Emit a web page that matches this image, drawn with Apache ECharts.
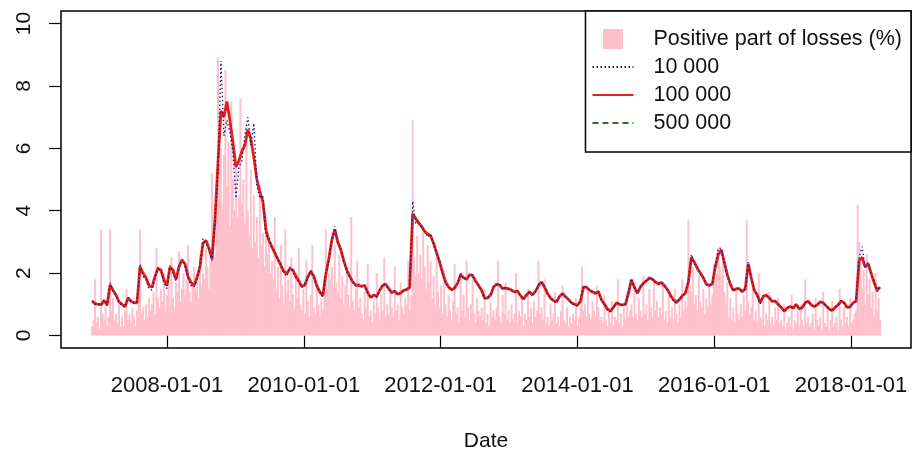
<!DOCTYPE html>
<html>
<head>
<meta charset="utf-8">
<script src="https://cdn.jsdelivr.net/npm/echarts@6/dist/echarts.min.js"></script>
<style>
html,body{margin:0;padding:0;background:#fff;}
#chart{width:912px;height:456px;}
</style>
</head>
<body>
<div id="chart"></div>
<script>
// ---- data ----
const seriesStart = '2006-11-27';
const lineStepDays = 16;   // sampling step of the three estimate lines
const barStepDays = 8;     // sampling step of the loss bars

const xTickDates = ['2008-01-01','2010-01-01','2012-01-01','2014-01-01','2016-01-01','2018-01-01'];
const yTickValues = [0, 2, 4, 6, 8, 10];
const xRange = ['2006-06-14', '2018-11-17'];
const yRange = [-0.4, 10.4];

const legendNames = ['Positive part of losses (%)', '10 000', '100 000', '500 000'];

const losses = [
0.3,0.5,1.8,0.4,0.6,0.2,3.4,0.7,0.5,0.9,0.3,0.6,3.4,0.8,1.2,0.5,0.7,0.4,1.0,0.3,
0.6,0.3,0.8,1.5,0.5,0.7,0.4,0.9,0.6,0.3,0.8,1.1,3.4,0.7,0.9,0.5,1.0,0.6,1.2,0.8,
1.0,1.4,0.7,2.8,1.2,0.9,1.5,1.1,2.0,0.8,1.3,1.6,1.0,2.5,1.2,0.9,1.7,1.4,2.7,1.1,
1.5,2.0,1.3,1.8,2.9,1.4,1.1,1.7,2.2,1.5,1.9,1.2,2.6,1.6,2.0,1.8,2.8,2.2,1.5,2.4,
5.2,3.0,2.5,4.0,8.9,5.5,6.0,4.2,5.8,8.5,4.8,6.2,3.5,7.5,5.0,4.0,5.6,3.8,4.5,7.6,
4.2,5.0,3.6,6.8,4.0,3.2,5.3,2.8,4.5,3.0,3.8,2.5,4.8,2.9,3.3,2.2,3.9,2.6,3.0,2.0,
2.4,1.8,3.8,1.5,2.2,1.2,2.9,1.6,1.0,3.4,1.4,1.8,1.1,2.5,1.3,0.9,2.0,1.2,2.8,1.0,
0.8,1.5,0.7,2.4,1.1,0.6,1.3,2.9,0.9,0.7,1.6,1.0,0.6,1.2,0.8,1.9,3.4,1.5,2.0,1.8,
2.2,1.5,2.9,1.7,1.4,2.6,1.2,1.9,1.0,1.6,2.2,1.3,0.9,3.8,1.1,0.8,1.5,2.4,0.9,1.2,
0.7,0.5,1.4,0.9,2.3,0.6,0.8,0.4,1.1,0.7,2.0,0.9,0.5,1.3,0.8,2.5,0.6,1.0,0.7,1.5,
0.9,0.6,2.2,0.8,1.0,0.5,1.7,0.9,0.7,1.2,1.0,2.4,0.8,1.3,6.9,2.5,1.9,3.2,2.0,2.6,
1.8,3.3,2.2,1.5,2.9,1.7,2.4,1.2,1.9,1.0,2.6,1.4,0.9,1.6,0.7,2.1,1.0,0.6,1.3,0.8,
0.5,1.1,2.3,0.7,0.9,0.4,2.0,0.8,1.3,0.6,2.4,0.9,0.5,1.0,1.8,0.7,0.4,1.2,0.8,0.6,
0.9,0.5,1.5,0.4,0.7,0.3,1.1,0.6,0.8,0.5,0.9,2.4,0.6,0.4,1.3,0.7,1.7,0.5,0.8,0.4,
1.0,0.5,0.7,2.0,0.4,0.8,0.6,1.2,0.3,0.7,0.5,1.5,0.6,0.9,0.4,1.1,0.6,0.8,2.4,0.7,
0.9,0.5,1.8,0.4,0.6,0.3,1.0,0.5,0.7,1.4,0.4,0.6,0.3,0.8,1.6,0.5,0.4,0.9,0.3,0.6,
0.4,0.7,0.5,1.2,0.3,0.6,0.9,2.2,0.8,1.0,0.6,1.4,0.7,0.5,1.1,0.8,0.6,1.6,0.9,0.5,
0.6,0.4,1.3,0.5,0.3,0.8,0.4,1.1,0.3,0.6,0.5,1.8,0.4,0.7,0.3,0.9,0.5,1.4,0.6,0.8,
1.0,0.6,1.7,0.7,0.5,1.2,0.8,0.6,1.9,0.7,1.0,0.5,1.5,0.9,0.6,1.8,0.8,1.1,0.6,0.9,
0.7,1.6,0.5,0.8,0.4,1.3,0.6,0.9,0.5,1.5,0.7,0.4,1.0,0.6,1.8,0.8,1.1,0.9,3.7,1.6,
1.4,2.2,1.0,1.3,0.8,1.9,1.1,0.9,1.5,0.7,1.2,0.9,1.6,1.0,1.3,2.3,1.8,2.0,2.8,2.2,
1.9,2.5,1.4,1.0,1.7,0.6,1.2,0.5,0.9,0.4,1.5,0.7,0.5,1.0,0.6,1.3,0.8,3.7,1.1,0.7,
0.9,1.6,0.5,0.8,0.4,2.0,0.6,0.5,1.1,0.3,0.7,0.5,1.4,0.4,0.6,0.3,0.9,0.5,1.2,0.4,
0.5,0.3,1.0,0.2,0.4,0.6,0.3,1.3,0.2,0.5,0.4,0.8,0.3,1.0,0.5,0.3,1.8,0.4,0.6,0.3,
0.4,0.7,0.2,1.2,0.5,0.3,0.6,0.2,1.4,0.4,0.3,0.8,0.2,0.5,1.1,0.3,0.4,0.6,0.2,1.5,
0.5,0.3,0.9,0.4,0.6,0.3,1.2,0.4,0.5,0.7,0.8,4.2,3.0,2.4,1.5,2.1,1.0,2.6,1.3,1.8,
0.9,1.4,0.6,2.0,0.8,1.2,0.5
];

const est10k = [
1.12,1.00,1.02,0.97,1.15,0.95,1.70,1.40,1.28,1.05,
0.98,0.90,1.22,1.08,1.03,1.07,2.30,1.90,1.80,1.50,
1.45,1.85,2.20,2.05,1.70,1.50,2.25,2.00,1.75,2.25,
2.45,2.25,1.85,1.60,1.55,1.80,2.25,3.10,2.95,2.75,
2.40,3.60,5.30,8.80,6.40,6.90,6.50,5.90,4.40,5.40,
5.60,6.40,7.00,6.10,6.80,4.80,4.40,4.50,3.20,3.15,
2.80,2.70,2.40,2.30,2.00,1.90,2.20,2.05,1.85,1.70,
1.55,1.65,1.85,2.10,1.85,1.55,1.38,1.25,2.00,2.40,
3.10,3.50,2.95,2.80,2.35,2.05,1.85,1.70,1.58,1.65,
1.55,1.62,1.35,1.20,1.32,1.22,1.48,1.65,1.62,1.48,
1.35,1.45,1.30,1.38,1.42,1.50,1.52,4.30,3.60,3.70,
3.40,3.40,3.15,3.25,2.90,2.60,2.40,1.95,1.65,1.55,
1.45,1.55,1.65,2.00,1.80,1.85,1.90,1.95,1.70,1.62,
1.40,1.18,1.22,1.28,1.60,1.62,1.65,1.48,1.55,1.48,
1.48,1.38,1.45,1.25,1.15,1.32,1.38,1.32,1.40,1.65,
1.70,1.58,1.32,1.22,1.10,1.05,1.28,1.32,1.22,1.18,
1.02,0.98,0.95,1.12,1.60,1.52,1.48,1.38,1.38,1.42,
1.12,1.02,0.82,0.76,0.92,1.03,1.02,0.96,1.02,1.38,
1.82,1.52,1.38,1.58,1.65,1.78,1.82,1.82,1.70,1.68,
1.72,1.58,1.45,1.32,1.12,1.04,1.18,1.25,1.38,1.75,
2.60,2.30,2.20,1.95,1.88,1.62,1.62,1.68,2.25,2.80,
2.80,2.30,1.90,1.68,1.42,1.52,1.48,1.42,1.48,2.35,
1.80,1.48,1.28,1.02,1.28,1.28,1.22,1.08,1.12,0.98,
0.92,0.76,0.90,0.91,0.90,0.98,0.87,0.88,1.07,1.08,
1.00,0.91,1.00,1.06,1.07,0.93,0.87,0.78,0.92,0.96,
1.12,1.03,0.88,0.94,1.03,1.12,2.50,2.85,2.15,2.35,
1.95,1.75,1.40,1.60
];

const est100k = [
1.10,1.02,1.00,0.99,1.12,0.98,1.62,1.45,1.30,1.08,
1.00,0.93,1.20,1.10,1.05,1.05,2.20,2.00,1.85,1.60,
1.55,1.90,2.15,2.10,1.77,1.60,2.20,2.10,1.80,2.20,
2.42,2.30,1.90,1.70,1.60,1.85,2.20,2.95,3.05,2.80,
2.45,3.70,5.50,7.20,7.00,7.50,6.90,6.20,5.40,5.60,
5.90,6.10,6.60,6.30,5.70,5.00,4.60,4.30,3.40,3.05,
2.85,2.64,2.45,2.25,2.05,1.98,2.15,2.10,1.90,1.75,
1.57,1.62,1.88,2.05,1.90,1.60,1.40,1.27,1.95,2.45,
3.05,3.40,3.00,2.75,2.40,2.10,1.90,1.72,1.62,1.60,
1.58,1.60,1.38,1.22,1.30,1.25,1.45,1.60,1.65,1.50,
1.38,1.42,1.32,1.36,1.45,1.47,1.55,3.90,3.75,3.60,
3.50,3.33,3.25,3.20,2.95,2.65,2.35,2.00,1.72,1.55,
1.47,1.52,1.68,1.95,1.85,1.80,1.95,1.92,1.75,1.60,
1.45,1.20,1.20,1.30,1.55,1.65,1.62,1.50,1.52,1.50,
1.45,1.40,1.42,1.28,1.17,1.30,1.40,1.30,1.42,1.60,
1.72,1.55,1.35,1.20,1.12,1.08,1.25,1.35,1.25,1.15,
1.05,1.00,0.97,1.10,1.55,1.55,1.45,1.40,1.35,1.40,
1.15,1.00,0.85,0.78,0.90,1.05,1.00,0.98,1.00,1.35,
1.79,1.55,1.35,1.55,1.68,1.75,1.85,1.80,1.72,1.65,
1.70,1.60,1.48,1.30,1.15,1.06,1.15,1.28,1.35,1.70,
2.50,2.35,2.15,2.00,1.85,1.65,1.60,1.65,2.20,2.60,
2.75,2.35,1.95,1.65,1.45,1.50,1.50,1.40,1.50,2.30,
1.85,1.45,1.30,1.05,1.25,1.30,1.20,1.10,1.10,1.00,
0.90,0.78,0.88,0.93,0.88,1.00,0.85,0.90,1.05,1.10,
0.98,0.93,0.98,1.08,1.05,0.95,0.85,0.80,0.90,0.98,
1.10,1.05,0.90,0.92,1.05,1.10,2.40,2.50,2.20,2.30,
2.00,1.70,1.45,1.55
];

const est500k = [
1.09,1.02,1.01,0.99,1.11,0.98,1.60,1.45,1.31,1.08,
1.00,0.94,1.19,1.10,1.05,1.06,2.18,2.00,1.86,1.61,
1.56,1.89,2.14,2.11,1.78,1.61,2.19,2.10,1.81,2.19,
2.41,2.30,1.91,1.71,1.61,1.85,2.19,2.93,3.04,2.80,
2.46,3.68,5.48,7.15,7.02,7.45,6.92,6.22,5.45,5.62,
5.92,6.08,6.55,6.32,5.68,5.02,4.62,4.28,3.42,3.04,
2.86,2.63,2.46,2.24,2.06,1.99,2.14,2.10,1.91,1.76,
1.58,1.61,1.88,2.04,1.91,1.61,1.41,1.28,1.94,2.45,
3.03,3.38,3.01,2.74,2.41,2.11,1.90,1.73,1.62,1.59,
1.58,1.60,1.39,1.23,1.29,1.26,1.44,1.59,1.65,1.51,
1.38,1.41,1.33,1.35,1.45,1.46,1.56,3.86,3.76,3.58,
3.51,3.32,3.26,3.19,2.96,2.65,2.34,2.01,1.73,1.55,
1.48,1.51,1.68,1.94,1.86,1.79,1.95,1.91,1.76,1.60,
1.46,1.21,1.20,1.31,1.54,1.66,1.61,1.50,1.51,1.50,
1.44,1.41,1.41,1.29,1.18,1.29,1.41,1.30,1.42,1.59,
1.72,1.54,1.36,1.20,1.13,1.09,1.24,1.35,1.26,1.14,
1.06,1.00,0.98,1.09,1.54,1.56,1.44,1.41,1.34,1.40,
1.16,0.99,0.86,0.79,0.89,1.05,0.99,0.98,1.00,1.34,
1.77,1.56,1.34,1.54,1.69,1.74,1.85,1.79,1.73,1.64,
1.69,1.61,1.48,1.29,1.16,1.07,1.14,1.29,1.34,1.68,
2.48,2.36,2.14,2.01,1.84,1.66,1.59,1.66,2.18,2.58,
2.74,2.36,1.96,1.64,1.46,1.49,1.51,1.39,1.51,2.28,
1.86,1.44,1.31,1.06,1.24,1.31,1.19,1.11,1.09,1.01,
0.89,0.79,0.87,0.94,0.87,1.01,0.84,0.91,1.04,1.11,
0.97,0.94,0.97,1.09,1.04,0.96,0.84,0.81,0.89,0.99,
1.09,1.06,0.89,0.93,1.04,1.11,2.38,2.52,2.19,2.31,
2.01,1.69,1.46,1.54
];

// ---- helpers ----
const DAY = 86400000;
function ts(s){ const p = s.split('-').map(Number); return Date.UTC(p[0], p[1]-1, p[2]); }
const t0 = ts(seriesStart);
function onGrid(values, stepDays){ return values.map((v, i) => [t0 + i * stepDays * DAY, v]); }
function pad(n){ return (n < 10 ? '0' : '') + n; }
function fmtDate(v){ const d = new Date(v); return d.getUTCFullYear() + '-' + pad(d.getUTCMonth()+1) + '-' + pad(d.getUTCDate()); }

const FONT = '"Liberation Sans", Arial, Helvetica, sans-serif';
const xTicks = xTickDates.map(ts);
const NOFILL = 'rgba(0,0,0,0)';

const chart = echarts.init(document.getElementById('chart'), null, {renderer: 'canvas'});
chart.setOption({
  animation: false,
  backgroundColor: '#ffffff',
  textStyle: {fontFamily: FONT},
  grid: {left: 61, right: 1, top: 11, bottom: 108, show: true, borderColor: '#000', borderWidth: 1.5, backgroundColor: 'transparent', outerBoundsMode: 'none'},
  legend: {
    right: 1, top: 11, orient: 'vertical',
    itemWidth: 41, itemHeight: 20, itemGap: 6,
    padding: [17, 9, 18, 6],
    borderColor: '#000', borderWidth: 1.5, backgroundColor: '#fff',
    selectedMode: false,
    textStyle: {fontFamily: FONT, fontSize: 21.5, color: '#111', padding: [0, 0, 0, 15]},
    data: [
      {name: legendNames[0], icon: 'path://M0 0H10V10H0Z'},
      {name: legendNames[1]},
      {name: legendNames[2]},
      {name: legendNames[3]}
    ]
  },
  xAxis: {
    type: 'value',
    min: ts(xRange[0]), max: ts(xRange[1]),
    name: 'Date', nameLocation: 'middle', nameGap: 83,
    nameTextStyle: {fontFamily: FONT, fontSize: 21, color: '#111'},
    axisLine: {show: false},
    axisTick: {show: true, length: 12, lineStyle: {color: '#000', width: 1.2}, customValues: xTicks},
    axisLabel: {show: true, customValues: xTicks, formatter: v => fmtDate(v), fontFamily: FONT, fontSize: 22, color: '#111', margin: 27, hideOverlap: false},
    splitLine: {show: false}
  },
  yAxis: {
    type: 'value',
    min: yRange[0], max: yRange[1],
    axisLine: {show: false},
    axisTick: {show: true, length: 12, lineStyle: {color: '#000', width: 1.2}, customValues: yTickValues},
    axisLabel: {show: true, customValues: yTickValues, rotate: 90, fontFamily: FONT, fontSize: 21, color: '#111', margin: 26},
    splitLine: {show: false}
  },
  series: [
    {
      name: legendNames[0], type: 'bar', barWidth: 2,
      itemStyle: {color: '#FFC0CB'},
      data: onGrid(losses, barStepDays), z: 1
    },
    {
      name: legendNames[3], type: 'line', symbol: 'circle', symbolSize: 0, showSymbol: false,
      lineStyle: {color: '#2E6B2E', width: 1.3, type: [6, 4]},
      itemStyle: {color: NOFILL},
      data: onGrid(est500k, lineStepDays), z: 2
    },
    {
      name: legendNames[2], type: 'line', symbol: 'circle', symbolSize: 0, showSymbol: false,
      lineStyle: {color: '#E3211C', width: 2.8},
      itemStyle: {color: NOFILL},
      data: onGrid(est100k, lineStepDays), z: 3
    },
    {
      name: legendNames[1], type: 'line', symbol: 'circle', symbolSize: 0, showSymbol: false,
      lineStyle: {color: '#1A1A80', width: 1.3, type: [1.5, 2.5]},
      itemStyle: {color: NOFILL},
      data: onGrid(est10k, lineStepDays), z: 4
    }
  ]
});
</script>
</body>
</html>
